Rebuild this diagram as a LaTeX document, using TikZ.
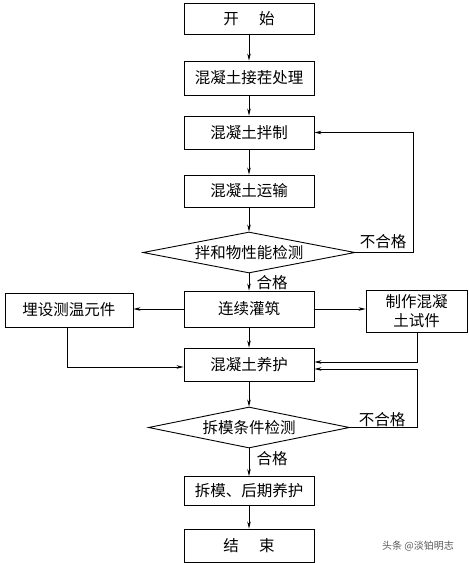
\documentclass[tikz,border=0pt]{standalone}
\usepackage{fontspec}
\newfontfamily\cjk{Noto Sans CJK SC}
\usetikzlibrary{arrows.meta,shapes.geometric}
\begin{document}
\begin{tikzpicture}[x=1pt,y=-1pt,
  txt/.style={font=\cjk\fontsize{15.5}{19}\selectfont},
  box/.style={draw,line width=0.9pt,minimum width=130pt,inner sep=0pt,txt},
  dia/.style={draw,diamond,line width=0.9pt,inner sep=0pt,aspect=5,txt},
  arr/.style={line width=0.8pt,-{Stealth[length=7pt,width=3.5pt]}},
  lab/.style={txt,inner sep=0pt}]
\useasboundingbox (0,0) rectangle (469,563);
\node[box,minimum height=31pt] (s) at (249,18.5) {开\hspace{1.3em}始};
\node[box,minimum height=34pt] (a1) at (249,78) {混凝土接茬处理};
\node[box,minimum height=33pt] (a2) at (249,132.5) {混凝土拌制};
\node[box,minimum height=32pt] (a3) at (249,191) {混凝土运输};
\node[dia,minimum width=212pt,minimum height=41pt] (d1) at (249,252.5) {拌和物性能检测};
\node[box,minimum height=36pt] (b) at (249,309) {连续灌筑};
\node[box,minimum width=128pt,minimum height=34pt] (L) at (69,310) {埋设测温元件};
\node[box,minimum width=101pt,minimum height=42pt,align=center] (R) at (416.5,311) {制作混凝\\土试件};
\node[box,minimum height=33pt] (c) at (249,364.5) {混凝土养护};
\node[dia,minimum width=201pt,minimum height=41pt] (d2) at (249,427.5) {拆模条件检测};
\node[box,minimum height=29pt] (e) at (249,491) {拆模、后期养护};
\node[box,minimum height=33pt] (f) at (249,545.5) {结\hspace{1.3em}束};

\coordinate (k1) at (413,252.5);
\coordinate (k2) at (417,427.5);
\coordinate (k3) at (417,369);
\coordinate (k4) at (417,362);
\coordinate (k5) at (67,367);

\draw[arr] (s) -- (a1);
\draw[arr] (a1) -- (a2);
\draw[arr] (a2) -- (a3);
\draw[arr] (a3) -- (d1);
\draw[arr] (d1) -- (b);
\draw[arr] (d1.east) -- (k1) |- (a2.east);
\draw[arr] (b.west) -- (L.east |- b.west);
\draw[arr] (b.east) -- (R.west |- b.east);
\draw[arr] (b) -- (c);
\draw[arr] (L.south -| k5) -- (k5) -- (k5 -| c.west);
\draw[arr] (R.south -| k4) -- (k4) -- (k4 -| c.east);
\draw[arr] (d2.east) -- (k2) -- (k3) -- (k3 -| c.east);
\draw[arr] (c) -- (d2);
\draw[arr] (d2) -- (e);
\draw[arr] (e) -- (f);

\node[lab] (g1) at (272,283) {合格};
\node[lab] (g2) at (272,459) {合格};
\node[lab] (n1) at (383,242) {不合格};
\node[lab] (n2) at (382,420) {不合格};
\node[font=\cjk\fontsize{10}{12}\selectfont,text=black!65,inner sep=0pt] (w) at (418,546) {头条 @淡铂明志};
\end{tikzpicture}
\end{document}
